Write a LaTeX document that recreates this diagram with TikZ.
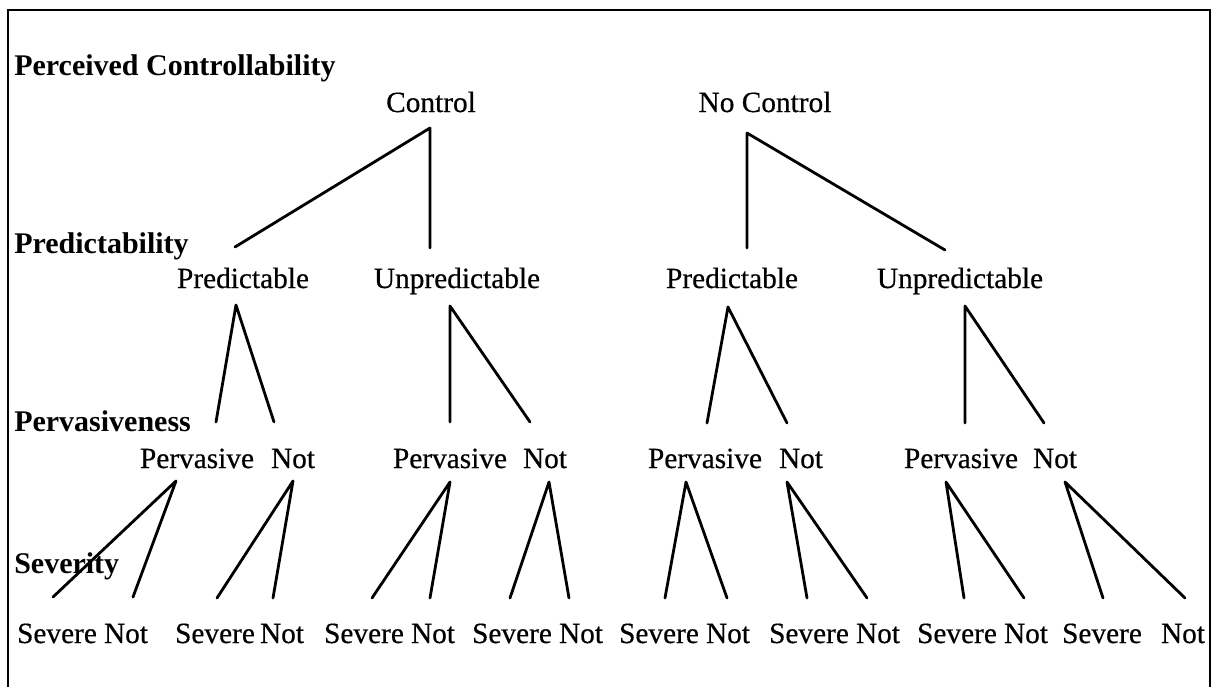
\documentclass[tikz,border=0pt]{standalone}
\usepackage{fontspec}
\setmainfont{Liberation Serif}
\newfontfamily\treefont{Liberation Serif}[FakeBold=0.5]

\begin{document}
\begin{tikzpicture}[x=0.75pt, y=-0.75pt]
  \tikzset{
    lvl/.style={font=\treefont\fontsize{22}{26}\selectfont, anchor=base, inner sep=0pt},
    facet/.style={font=\fontsize{22.5}{26}\selectfont\bfseries, anchor=base west, inner sep=0pt},
    branch/.style={line width=2.1pt, line join=round, line cap=round}
  }
  \useasboundingbox (0,0) rectangle (1213,687);
  % frame, open at the bottom
  \draw[line width=1.5pt] (8,687) -- (8,10) -- (1210,10) -- (1210,687);

  % factor names down the left side
  \foreach \n/\y/\t in {fc/75/Perceived Controllability, fp/253/Predictability,
                        fv/431/Pervasiveness, fs/573/Severity}{
    \node[facet] (\n) at (14,\y) {\t};
  }

  % level 1
  \node[lvl] (ctl)   at (431,112) {Control};
  \node[lvl] (noctl) at (765,112) {No Control};
  % level 2
  \foreach \n/\x/\t in {p1/243/Predictable, u1/457/Unpredictable,
                        p2/732/Predictable, u2/960/Unpredictable}{
    \node[lvl] (\n) at (\x,288) {\t};
  }
  % level 3
  \foreach \i/\p/\o in {1/197/293, 2/450/545, 3/705/801, 4/961/1055}{
    \node[lvl] (pv\i) at (\p,468) {Pervasive};
    \node[lvl] (nt\i) at (\o,468) {Not};
  }
  % level 4
  \foreach \i/\s/\o in {1/57/126, 2/215/282, 3/364/433, 4/512/581,
                        5/659/728, 6/809/878, 7/957/1026, 8/1102/1183}{
    \node[lvl] (sv\i) at (\s,643) {Severe};
    \node[lvl] (sn\i) at (\o,643) {Not};
  }

  % branches: apex under the parent, two feet over the children
  \foreach \n/\ax/\ay/\lx/\ly/\rx/\ry in {
    ctl/430/128/235/247/430/248,
    noctl/747/133/747/248/945/250,
    p1/236/305/216/422/274/422,
    u1/450/306/450/422/530/422,
    p2/728/307/707/423/787/423,
    u2/965/306/965/423/1044/423,
    pv1/176/481/53/597/133/597,
    nt1/293/481/217/598/273/598,
    pv2/450/482/372/598/430/598,
    nt2/549/482/510/598/569/598,
    pv3/686/482/665/598/727/598,
    nt3/787/482/807/598/867/598,
    pv4/946/482/964/598/1024/598,
    nt4/1065/482/1103/598/1185/598
  }{
    \coordinate (\n-top) at (\ax,\ay);
    \coordinate (\n-l) at (\lx,\ly);
    \coordinate (\n-r) at (\rx,\ry);
    \draw[branch] (\n-l) -- (\n-top) -- (\n-r);
  }
\end{tikzpicture}
\end{document}
